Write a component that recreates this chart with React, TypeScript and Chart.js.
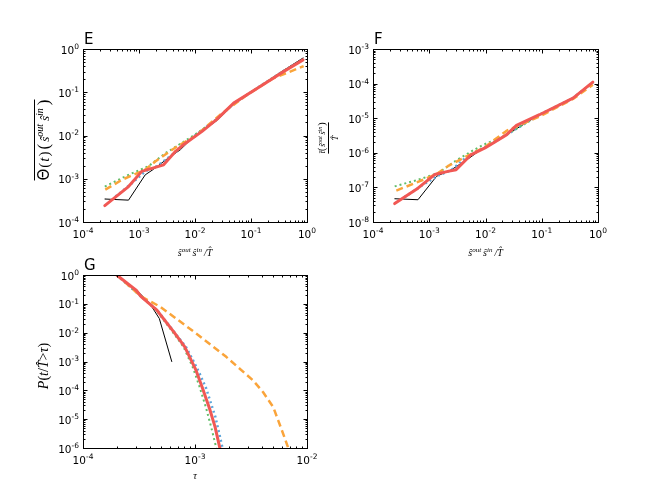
import React, { useEffect, useRef } from "react";
import { Chart, registerables } from "chart.js";

Chart.register(...registerables);

// ---------------- Panel E data ----------------
const E_BLACK_X = [2.45e-4, 6.5e-4, 1.29e-3, 1.82e-3, 3.2e-3, 5.5e-3, 8.9e-3, 2.45e-2, 4.9e-2, 0.148, 0.38, 0.85];
const E_BLACK_Y = [3.4e-4, 3.2e-4, 1.23e-3, 1.66e-3, 2.9e-3, 4.7e-3, 8.7e-3, 2.2e-2, 5.4e-2, 0.141, 0.32, 0.62];
const E_BLUE_X = [3.8e-4, 4.4e-4, 7.5e-4, 1.29e-3, 2.1e-3, 3.6e-3, 5.9e-3, 1.0e-2, 2.45e-2, 4.9e-2, 0.148, 0.38, 0.85];
const E_BLUE_Y = [3.9e-4, 4.5e-4, 7.9e-4, 1.48e-3, 1.95e-3, 3.3e-3, 5.6e-3, 1.0e-2, 2.4e-2, 5.4e-2, 0.141, 0.31, 0.57];
const E_GREEN_X = [2.45e-4, 6.5e-4, 1.48e-3, 2.95e-3, 5.9e-3, 1.0e-2, 2.45e-2, 4.9e-2, 0.148, 0.38, 0.85];
const E_GREEN_Y = [6.6e-4, 1.23e-3, 1.95e-3, 3.9e-3, 6.8e-3, 1.05e-2, 2.4e-2, 5.4e-2, 0.141, 0.31, 0.57];
const E_ORANGE_X = [2.5e-4, 5.0e-4, 1.29e-3, 1.95e-3, 4.8e-3, 1.0e-2, 2.8e-2, 8.5e-2, 0.25, 0.87];
const E_ORANGE_Y = [5.6e-4, 9.5e-4, 1.62e-3, 2.5e-3, 5.6e-3, 9.5e-3, 3.0e-2, 8.7e-2, 0.21, 0.40];
const E_RED_X = [2.45e-4, 6.5e-4, 1.12e-3, 1.82e-3, 2.75e-3, 4.5e-3, 6.3e-3, 1.32e-2, 2.45e-2, 4.9e-2, 0.148, 0.38, 0.85];
const E_RED_Y = [2.4e-4, 6.6e-4, 1.48e-3, 1.78e-3, 2.1e-3, 4.3e-3, 6.2e-3, 1.23e-2, 2.35e-2, 5.6e-2, 0.138, 0.30, 0.56];

// ---------------- Panel F data ----------------
const F_BLACK_X = [2.43e-4, 6.3e-4, 1.35e-3, 2.45e-3, 5.2e-3, 9.1e-3, 2.35e-2, 9.1e-2, 0.36, 0.81];
const F_BLACK_Y = [4.7e-8, 4.4e-8, 2.1e-7, 3.2e-7, 7.1e-7, 1.38e-6, 3.3e-6, 1.26e-5, 3.8e-5, 1.1e-4];
const F_BLUE_X = [3.6e-4, 4.5e-4, 7.8e-4, 1.45e-3, 2.5e-3, 4.0e-3, 6.9e-3, 1.35e-2, 2.35e-2, 9.1e-2, 0.36, 0.81];
const F_BLUE_Y = [5.2e-8, 6.6e-8, 1.2e-7, 2.2e-7, 3.2e-7, 6.3e-7, 1.1e-6, 1.9e-6, 3.3e-6, 1.26e-5, 3.8e-5, 1.08e-4];
const F_GREEN_X = [2.43e-4, 6.3e-4, 1.45e-3, 3.0e-3, 5.6e-3, 9.1e-3, 2.35e-2, 9.1e-2, 0.36, 0.81];
const F_GREEN_Y = [1.07e-7, 1.66e-7, 2.6e-7, 6.0e-7, 1.1e-6, 1.7e-6, 3.3e-6, 1.26e-5, 3.8e-5, 1.08e-4];
const F_ORANGE_X = [2.6e-4, 7.8e-4, 1.35e-3, 2.14e-3, 3.7e-3, 9.8e-3, 2.35e-2, 9.1e-2, 0.36, 0.81];
const F_ORANGE_Y = [8.1e-8, 1.66e-7, 2.45e-7, 4.1e-7, 6.6e-7, 1.48e-6, 4.3e-6, 1.12e-5, 3.6e-5, 9.3e-5];
const F_RED_X = [2.43e-4, 6.3e-4, 1.25e-3, 2.15e-3, 3.0e-3, 5.6e-3, 9.8e-3, 1.35e-2, 2.35e-2, 3.55e-2, 9.1e-2, 0.36, 0.81];
const F_RED_Y = [3.4e-8, 9.5e-8, 2.35e-7, 2.9e-7, 3.25e-7, 8.9e-7, 1.38e-6, 1.9e-6, 3.3e-6, 6.2e-6, 1.26e-5, 3.8e-5, 1.1e-4];

// ---------------- Panel G data ----------------
const G_BLACK_X = [2.0e-4, 3.0e-4, 3.9e-4, 4.8e-4, 6.2e-4];
const G_BLACK_Y = [1.0, 0.3, 0.11, 0.031, 1.0e-3];
const G_BLUE_X = [2.0e-4, 3.3e-4, 4.6e-4, 6.5e-4, 8.3e-4, 9.5e-4, 1.1e-3, 1.26e-3, 1.39e-3, 1.52e-3, 1.66e-3, 1.76e-3];
const G_BLUE_Y = [1.0, 0.18, 0.06, 0.0107, 3.2e-3, 1.2e-3, 3.8e-4, 1.15e-4, 3.5e-5, 1.2e-5, 2.75e-6, 1.0e-6];
const G_GREEN_X = [2.0e-4, 3.3e-4, 4.5e-4, 6.3e-4, 7.9e-4, 9.6e-4, 1.1e-3, 1.25e-3, 1.4e-3, 1.55e-3];
const G_GREEN_Y = [1.0, 0.18, 0.06, 0.0107, 3.2e-3, 6.0e-4, 1.3e-4, 2.6e-5, 5.0e-6, 1.0e-6];
const G_ORANGE_X = [2.0e-4, 3.3e-4, 4.9e-4, 9.8e-4, 1.9e-3, 3.3e-3, 4.06e-3, 5.0e-3, 5.53e-3, 6.2e-3, 6.8e-3];
const G_ORANGE_Y = [1.0, 0.18, 0.079, 0.0107, 1.45e-3, 2.2e-4, 8.6e-5, 2.6e-5, 9.1e-6, 2.75e-6, 1.0e-6];
const G_RED_X = [2.0e-4, 3.0e-4, 3.3e-4, 4.57e-4, 6.46e-4, 8.1e-4, 1.02e-3, 1.17e-3, 1.35e-3, 1.51e-3, 1.66e-3, 1.72e-3];
const G_RED_Y = [1.0, 0.29, 0.178, 0.06, 0.0107, 3.2e-3, 5.0e-4, 1.15e-4, 2.3e-5, 5.4e-6, 1.07e-6, 6.0e-7];

// ---------------- styles ----------------
type Style = { color: string; width: number; dash: number[]; order: number };
const ST_BLACK: Style = { color: "#000000", width: 1, dash: [], order: 5 };
const ST_BLUE: Style = { color: "#5DA5DA", width: 2.5, dash: [2, 3], order: 4 };
const ST_GREEN: Style = { color: "#60BD68", width: 2, dash: [2, 3], order: 3 };
const ST_ORANGE: Style = { color: "#FAA43A", width: 2.5, dash: [7, 4], order: 2 };
const ST_RED: Style = { color: "#F15854", width: 3, dash: [], order: 1 };

type Seg = { t: string; size: number; italic?: boolean; serif?: boolean; dy?: number; gap?: number };

const SANS = '"DejaVu Sans", sans-serif';
const SERIF = '"Liberation Serif", "DejaVu Serif", serif';

function fontOf(s: Seg) {
  return `${s.italic ? "italic " : ""}${s.size}px ${s.serif ? SERIF : SANS}`;
}
function measure(ctx: CanvasRenderingContext2D, segs: Seg[]) {
  let w = 0;
  for (const s of segs) {
    ctx.font = fontOf(s);
    w += ctx.measureText(s.t).width + (s.gap || 0);
  }
  return w;
}
function drawSegs(ctx: CanvasRenderingContext2D, segs: Seg[], x: number, y: number, align: string) {
  const w = measure(ctx, segs);
  let cx = align === "center" ? x - w / 2 : align === "right" ? x - w : x;
  ctx.textAlign = "left";
  ctx.textBaseline = "alphabetic";
  for (const s of segs) {
    ctx.font = fontOf(s);
    ctx.fillText(s.t, cx, y + (s.dy || 0));
    cx += ctx.measureText(s.t).width + (s.gap || 0);
  }
  return w;
}

const HAT = "\u0302";

type PanelDef = {
  letter: string;
  pad: { left: number; top: number; right: number; bottom: number };
  xMin: number; xMax: number; yMin: number; yMax: number;
  series: { x: number[]; y: number[]; st: Style }[];
  drawTitles: (ctx: CanvasRenderingContext2D, a: any) => void;
};

const xTitleS: Seg[] = [
  { t: "s" + HAT, size: 10, italic: true, serif: true },
  { t: "out", size: 7, italic: true, serif: true, dy: -4, gap: 2 },
  { t: "s" + HAT, size: 10, italic: true, serif: true },
  { t: "in", size: 7, italic: true, serif: true, dy: -4, gap: 2 },
  { t: "/", size: 10, italic: true, serif: true },
  { t: "T" + HAT, size: 10, italic: true, serif: true },
];

const PANELS: PanelDef[] = [
  {
    letter: "E",
    pad: { left: 83, top: 49, right: 664 - 307, bottom: 498 - 222 },
    xMin: 1e-4, xMax: 1, yMin: 1e-4, yMax: 1,
    series: [
      { x: E_BLACK_X, y: E_BLACK_Y, st: ST_BLACK },
      { x: E_BLUE_X, y: E_BLUE_Y, st: ST_BLUE },
      { x: E_GREEN_X, y: E_GREEN_Y, st: ST_GREEN },
      { x: E_ORANGE_X, y: E_ORANGE_Y, st: ST_ORANGE },
      { x: E_RED_X, y: E_RED_Y, st: ST_RED },
    ],
    drawTitles: (ctx, a) => {
      drawSegs(ctx, xTitleS, (a.left + a.right) / 2, 256, "center");
      ctx.save();
      ctx.translate(43, 140);
      ctx.rotate(-Math.PI / 2);
      const segs: Seg[] = [
        { t: "Θ", size: 15, serif: false, gap: 1 },
        { t: "(", size: 15, serif: true, gap: 1 },
        { t: "t", size: 15, italic: true, serif: true, gap: 1 },
        { t: ")", size: 15, serif: true, gap: 2 },
        { t: "(", size: 17, serif: true, gap: 2 },
        { t: "s" + HAT, size: 13, italic: true, serif: true },
        { t: "out", size: 10, italic: true, serif: true, dy: -6, gap: 3 },
        { t: "s" + HAT, size: 13, italic: true, serif: true },
        { t: "in", size: 10, italic: true, serif: true, dy: -6, gap: 3 },
        { t: ")", size: 17, serif: true },
      ];
      const w = drawSegs(ctx, segs, 0, 6, "center");
      ctx.beginPath();
      ctx.lineWidth = 1;
      ctx.moveTo(-w / 2, -8.5);
      ctx.lineTo(w / 2, -8.5);
      ctx.stroke();
      ctx.restore();
    },
  },
  {
    letter: "F",
    pad: { left: 373, top: 49, right: 664 - 598, bottom: 498 - 222 },
    xMin: 1e-4, xMax: 1, yMin: 1e-8, yMax: 1e-3,
    series: [
      { x: F_BLACK_X, y: F_BLACK_Y, st: ST_BLACK },
      { x: F_BLUE_X, y: F_BLUE_Y, st: ST_BLUE },
      { x: F_GREEN_X, y: F_GREEN_Y, st: ST_GREEN },
      { x: F_ORANGE_X, y: F_ORANGE_Y, st: ST_ORANGE },
      { x: F_RED_X, y: F_RED_Y, st: ST_RED },
    ],
    drawTitles: (ctx, a) => {
      drawSegs(ctx, xTitleS, (a.left + a.right) / 2, 256, "center");
      ctx.save();
      ctx.translate(328, 138);
      ctx.rotate(-Math.PI / 2);
      const num: Seg[] = [
        { t: "t\u0304", size: 9, italic: true, serif: true },
        { t: "(", size: 10, serif: true, gap: 1 },
        { t: "s" + HAT, size: 8, italic: true, serif: true },
        { t: "out", size: 6, italic: true, serif: true, dy: -3.5, gap: 1.5 },
        { t: "s" + HAT, size: 8, italic: true, serif: true },
        { t: "in", size: 6, italic: true, serif: true, dy: -3.5, gap: 1 },
        { t: ")", size: 10, serif: true },
      ];
      const w = drawSegs(ctx, num, 0, -3, "center");
      ctx.beginPath();
      ctx.lineWidth = 1;
      ctx.moveTo(-w / 2, 0.5);
      ctx.lineTo(w / 2, 0.5);
      ctx.stroke();
      drawSegs(ctx, [{ t: "T" + HAT, size: 9, italic: true, serif: true }], 0, 10, "center");
      ctx.restore();
    },
  },
  {
    letter: "G",
    pad: { left: 83, top: 275, right: 664 - 307, bottom: 498 - 448 },
    xMin: 1e-4, xMax: 1e-2, yMin: 1e-6, yMax: 1,
    series: [
      { x: G_BLACK_X, y: G_BLACK_Y, st: ST_BLACK },
      { x: G_BLUE_X, y: G_BLUE_Y, st: ST_BLUE },
      { x: G_GREEN_X, y: G_GREEN_Y, st: ST_GREEN },
      { x: G_ORANGE_X, y: G_ORANGE_Y, st: ST_ORANGE },
      { x: G_RED_X, y: G_RED_Y, st: ST_RED },
    ],
    drawTitles: (ctx, a) => {
      drawSegs(ctx, [{ t: "τ", size: 10, italic: true, serif: true }], (a.left + a.right) / 2, 479, "center");
      ctx.save();
      ctx.translate(42, 366);
      ctx.rotate(-Math.PI / 2);
      const segs: Seg[] = [
        { t: "P", size: 14, italic: true, serif: true },
        { t: "(", size: 14, serif: true },
        { t: "t", size: 14, italic: true, serif: true },
        { t: "/", size: 14, serif: true },
        { t: "T" + HAT, size: 14, italic: true, serif: true },
        { t: ">", size: 14, serif: true },
        { t: "τ", size: 14, italic: true, serif: true },
        { t: ")", size: 14, serif: true },
      ];
      drawSegs(ctx, segs, 0, 6, "center");
      ctx.restore();
    },
  },
];

function expStr(e: number) {
  return e < 0 ? "-" + Math.abs(e) : String(e);
}

function makeAxesPlugin(p: PanelDef) {
  return {
    id: "axes" + p.letter,
    afterDatasetsDraw(chart: any) {
      const ctx: CanvasRenderingContext2D = chart.ctx;
      const a = chart.chartArea;
      const xs = chart.scales.x;
      const ys = chart.scales.y;
      const L = Math.round(a.left) + 0.5;
      const R = Math.round(a.right) + 0.5;
      const T = Math.round(a.top) + 0.5;
      const B = Math.round(a.bottom) + 0.5;
      ctx.save();
      ctx.strokeStyle = "#000";
      ctx.fillStyle = "#000";
      ctx.lineWidth = 1;
      ctx.setLineDash([]);
      ctx.strokeRect(L, T, R - L, B - T);

      // x ticks
      const x0 = Math.round(Math.log10(p.xMin));
      const x1 = Math.round(Math.log10(p.xMax));
      for (let e = x0; e <= x1; e++) {
        for (let m = 1; m <= 9; m++) {
          const v = m * Math.pow(10, e);
          if (v > p.xMax * 1.0001) break;
          const px = Math.round(xs.getPixelForValue(v)) + 0.5;
          const len = m === 1 ? 4 : 2;
          ctx.beginPath();
          ctx.moveTo(px, B);
          ctx.lineTo(px, B - len);
          ctx.moveTo(px, T);
          ctx.lineTo(px, T + len);
          ctx.stroke();
          if (m === 1) {
            drawSegs(ctx, [
              { t: "10", size: 10.5 },
              { t: expStr(e), size: 7.5, dy: -4.6 },
            ], xs.getPixelForValue(v), a.bottom + 15.5, "center");
          }
        }
      }
      // y ticks
      const y0 = Math.round(Math.log10(p.yMin));
      const y1 = Math.round(Math.log10(p.yMax));
      for (let e = y0; e <= y1; e++) {
        for (let m = 1; m <= 9; m++) {
          const v = m * Math.pow(10, e);
          if (v > p.yMax * 1.0001) break;
          const py = Math.round(ys.getPixelForValue(v)) + 0.5;
          const len = m === 1 ? 4 : 2;
          ctx.beginPath();
          ctx.moveTo(L, py);
          ctx.lineTo(L + len, py);
          ctx.moveTo(R, py);
          ctx.lineTo(R - len, py);
          ctx.stroke();
          if (m === 1) {
            drawSegs(ctx, [
              { t: "10", size: 10.5 },
              { t: expStr(e), size: 7.5, dy: -4.6 },
            ], a.left - 4, ys.getPixelForValue(v) + 4.5, "right");
          }
        }
      }
      // panel letter
      drawSegs(ctx, [{ t: p.letter, size: 15 }], a.left + 1, a.top - 5.5, "left");
      p.drawTitles(ctx, a);
      ctx.restore();
    },
  };
}

function PanelChart({ p }: { p: PanelDef }) {
  const ref = useRef<HTMLCanvasElement | null>(null);
  useEffect(() => {
    if (!ref.current) return;
    const chart = new Chart(ref.current, {
      type: "line",
      data: {
        datasets: p.series.map((s) => ({
          data: s.x.map((xv, i) => ({ x: xv, y: s.y[i] })),
          borderColor: s.st.color,
          backgroundColor: s.st.color,
          borderWidth: s.st.width,
          borderDash: s.st.dash,
          borderCapStyle: s.st.dash.length ? "butt" : "round",
          borderJoinStyle: "round",
          pointRadius: 0,
          fill: false,
          tension: 0,
          order: s.st.order,
        })),
      },
      options: {
        animation: false,
        responsive: false,
        devicePixelRatio: 1,
        layout: { padding: p.pad },
        plugins: { legend: { display: false }, tooltip: { enabled: false } },
        events: [],
        scales: {
          x: { type: "logarithmic", min: p.xMin, max: p.xMax, display: false },
          y: { type: "logarithmic", min: p.yMin, max: p.yMax, display: false },
        },
      } as any,
      plugins: [makeAxesPlugin(p)],
    });
    return () => chart.destroy();
  }, [p]);
  return (
    <canvas
      ref={ref}
      width={664}
      height={498}
      style={{ position: "absolute", left: 0, top: 0, width: 664, height: 498 }}
    />
  );
}

export default function App() {
  return (
    <div style={{ position: "fixed", left: 0, top: 0, width: 664, height: 498, background: "#fff", overflow: "hidden" }}>
      {PANELS.map((p) => (
        <PanelChart key={p.letter} p={p} />
      ))}
    </div>
  );
}
